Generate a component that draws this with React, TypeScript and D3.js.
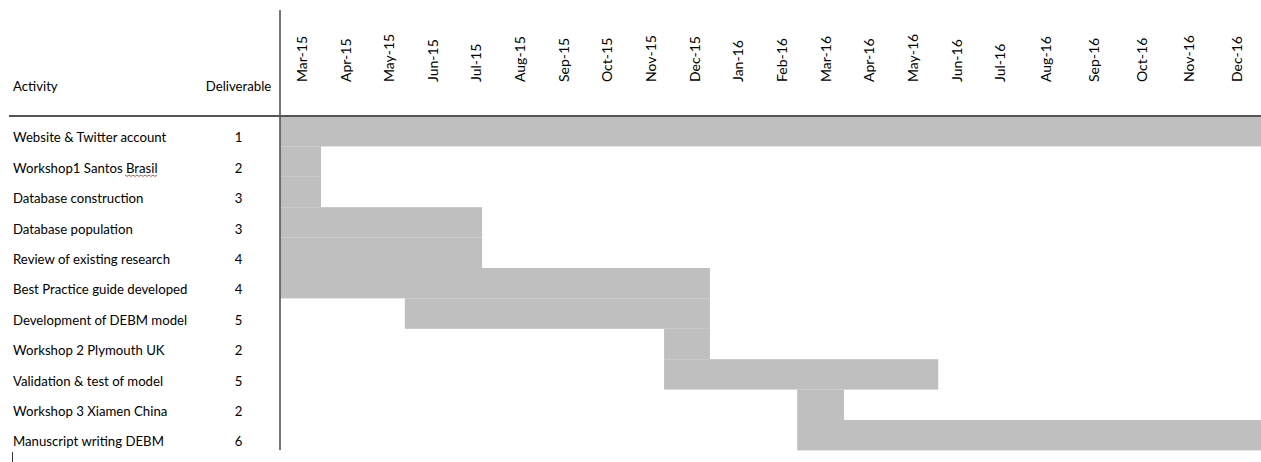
import React from "react";
import * as d3 from "d3";

const months = ["Mar-15","Apr-15","May-15","Jun-15","Jul-15","Aug-15","Sep-15","Oct-15","Nov-15","Dec-15","Jan-16","Feb-16","Mar-16","Apr-16","May-16","Jun-16","Jul-16","Aug-16","Sep-16","Oct-16","Nov-16","Dec-16"];
const activities = ["Website & Twitter account","Workshop1 Santos Brasil","Database construction","Database population","Review of existing research","Best Practice guide developed","Development of DEBM model","Workshop 2 Plymouth UK","Validation & test of model","Workshop 3 Xiamen China","Manuscript writing DEBM"];
const deliverables = [1,2,3,3,4,4,5,2,5,2,6];
// start / end in months since Mar-15
const starts = [0,0,0,0,0,0,2.86,8.8,8.8,11.85,11.85];
const ends = [22,0.94,0.94,4.63,4.63,9.85,9.85,9.85,15.08,12.92,22];

const W = 1261, H = 462;
const FONT = "Lato, 'Open Sans', sans-serif";

export default function App() {
  const x = d3.scaleLinear().domain([0, 17, 22]).range([280, 1022, 1261]);
  const y = d3.scaleBand<string>().domain(activities).range([116, 450.4]).padding(0);
  const bw = y.bandwidth();

  // squiggle under "Brasil"
  const sq: [number, number][] = [];
  for (let i = 0; i <= 16; i++) sq.push([125 + i * 2, 175 + (i % 2 === 0 ? 0 : 1.4)]);
  const sqPath = d3.line()(sq) || "";

  return (
    <svg width={W} height={H} style={{ position: "absolute", left: 0, top: 0, background: "#fff" }} fontFamily={FONT}>
      <rect x={0} y={0} width={W} height={H} fill="#fff" />
      {activities.map((a, i) => (
        <rect key={a} x={x(starts[i])} y={y(a)!} width={x(ends[i]) - x(starts[i])} height={bw} fill="#bfbfbf" />
      ))}
      {/* grid lines */}
      <line x1={9} x2={W} y1={116} y2={116} stroke="#555" strokeWidth={2} />
      <line x1={280} x2={280} y1={10} y2={450} stroke="#555" strokeWidth={1.6} />
      {/* headers */}
      <text x={13} y={91} fontSize={13.2} fill="#000">Activity</text>
      <text x={238.5} y={91} fontSize={13.2} fill="#000" textAnchor="middle">Deliverable</text>
      {months.map((m, i) => (
        <text key={m} transform={`translate(${x(i + 0.5)},82) rotate(-90)`} dy="0.36em" fontSize={14} fill="#000">{m}</text>
      ))}
      {activities.map((a, i) => (
        <g key={a}>
          <text x={13} y={y(a)! + bw - 4} fontSize={13.2} fill="#000">{a}</text>
          <text x={238.5} y={y(a)! + bw - 4} fontSize={13.2} fill="#000" textAnchor="middle">{deliverables[i]}</text>
        </g>
      ))}
      <path d={sqPath} fill="none" stroke="#e0302a" strokeWidth={0.9} />
      <line x1={12.5} x2={12.5} y1={452} y2={462} stroke="#333" strokeWidth={1} />
    </svg>
  );
}
